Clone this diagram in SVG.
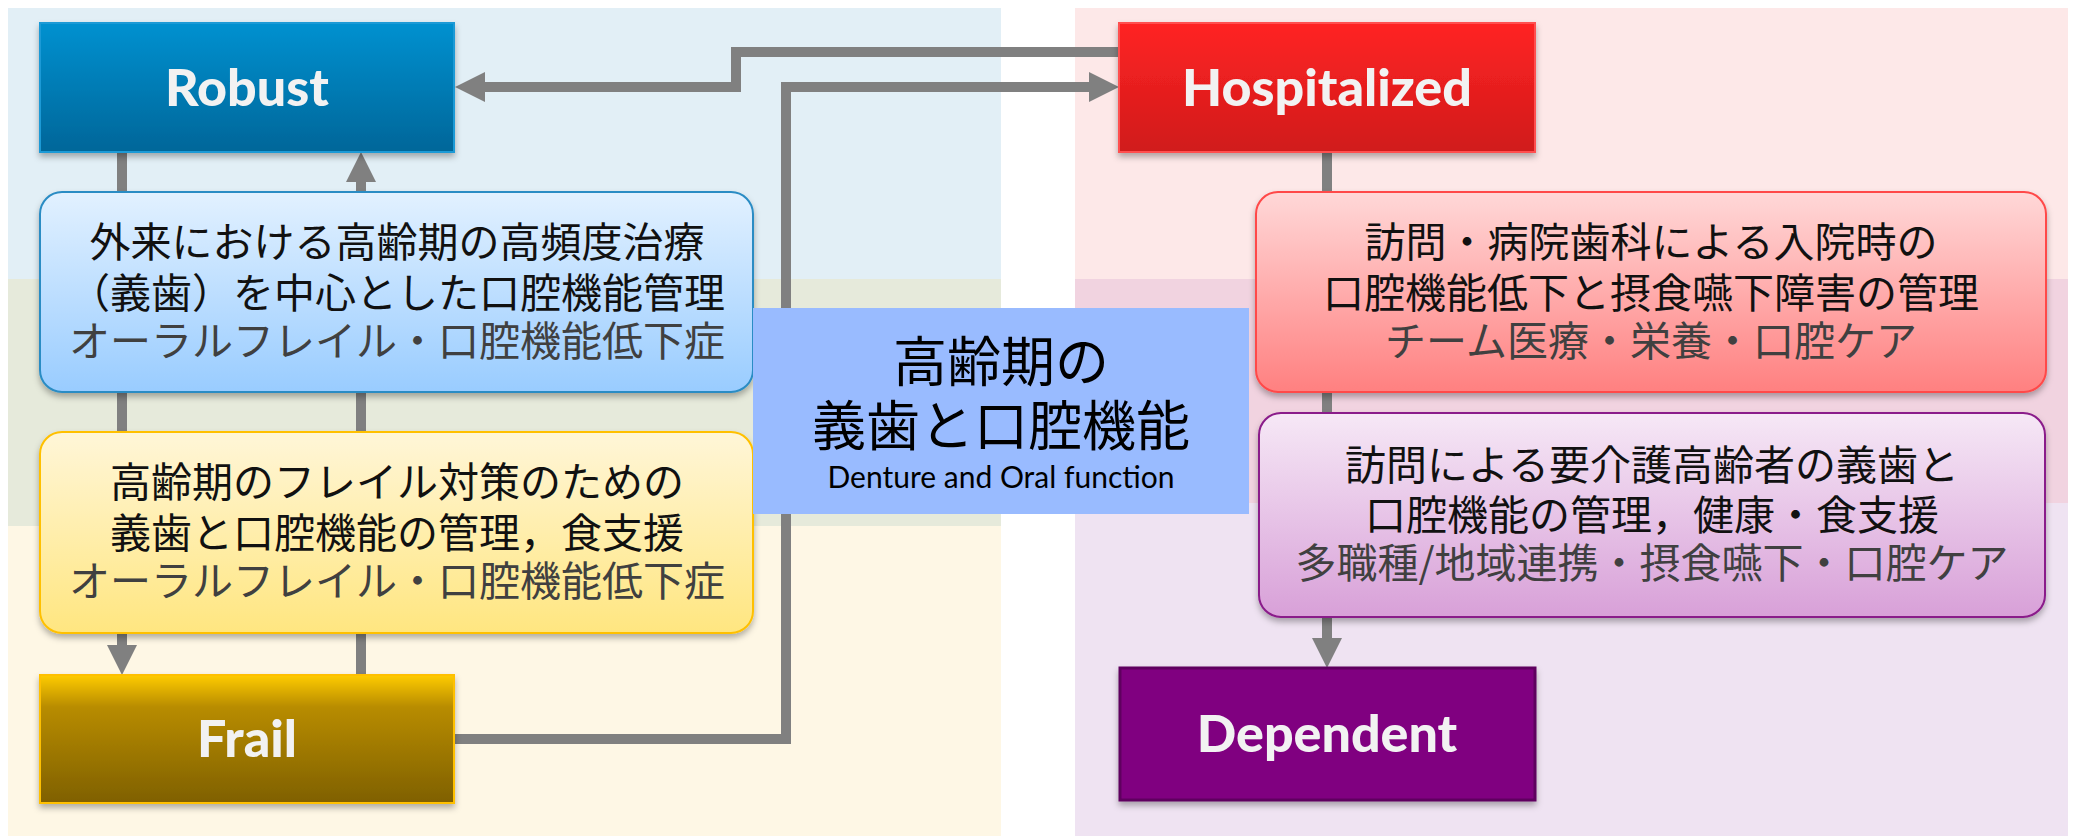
<svg xmlns="http://www.w3.org/2000/svg" width="2074" height="839" viewBox="0 0 2074 839">
<style>
.bg{stroke:none}
.conn{fill:none;stroke:#808080;stroke-width:10;stroke-linejoin:miter}
.state{font-family:Lato,"Open Sans","Liberation Sans",sans-serif;font-weight:900;font-size:52px;fill:#f2f2f2;text-anchor:middle}
.jp{font-family:"Noto Sans CJK JP","Noto Sans CJK SC",sans-serif;font-size:41px;fill:#111;text-anchor:middle}
.sub{fill:#404040}
.big{font-family:"Noto Sans CJK JP","Noto Sans CJK SC",sans-serif;font-size:54px;fill:#000;text-anchor:middle}
.en{font-family:Lato,"Open Sans","Liberation Sans",sans-serif;font-size:30px;fill:#000;text-anchor:middle}
</style>
<defs>
<filter id="sh" x="-10%" y="-10%" width="120%" height="130%">
<feDropShadow dx="0" dy="4" stdDeviation="3" flood-color="#000" flood-opacity="0.3"/>
</filter>
<marker id="ah" viewBox="0 0 30 30" markerWidth="30" markerHeight="30" refX="0" refY="15" orient="auto" markerUnits="userSpaceOnUse">
<path d="M0,0 L30,15 L0,30 Z" fill="#808080"/>
</marker>
<linearGradient id="gRobust" x1="0" y1="0" x2="0" y2="1"><stop offset="0" stop-color="#0091d0"/><stop offset="1" stop-color="#006699"/></linearGradient>
<linearGradient id="gHosp" x1="0" y1="0" x2="0" y2="1"><stop offset="0" stop-color="#ff2424"/><stop offset="1" stop-color="#d01a1a"/></linearGradient>
<linearGradient id="gFrail" x1="0" y1="0" x2="0" y2="1"><stop offset="0" stop-color="#ffcc00"/><stop offset="0.25" stop-color="#b88c00"/><stop offset="1" stop-color="#7f6000"/></linearGradient>
<linearGradient id="gBlue" x1="0" y1="0" x2="0" y2="1"><stop offset="0" stop-color="#e2f1ff"/><stop offset="1" stop-color="#99ccff"/></linearGradient>
<linearGradient id="gYel" x1="0" y1="0" x2="0" y2="1"><stop offset="0" stop-color="#fff6d8"/><stop offset="1" stop-color="#ffe680"/></linearGradient>
<linearGradient id="gPink" x1="0" y1="0" x2="0" y2="1"><stop offset="0" stop-color="#ffd8d8"/><stop offset="1" stop-color="#ff8080"/></linearGradient>
<linearGradient id="gPur" x1="0" y1="0" x2="0" y2="1"><stop offset="0" stop-color="#f6e8f6"/><stop offset="1" stop-color="#d8a0d8"/></linearGradient>
</defs>

<g id="background">
<rect class="bg" x="8" y="8" width="993" height="271" fill="#e2eff6"/>
<rect class="bg" x="8" y="279" width="993" height="247" fill="#e6eadb"/>
<rect class="bg" x="8" y="526" width="993" height="310" fill="#fef7e5"/>
<rect class="bg" x="1075" y="8" width="993" height="271" fill="#fde8e8"/>
<rect class="bg" x="1075" y="279" width="993" height="224" fill="#f1d3e0"/>
<rect class="bg" x="1075" y="503" width="993" height="333" fill="#efe3f2"/>
</g>

<g id="connectors">
<path class="conn" d="M122,152 L122,645" marker-end="url(#ah)"/>
<path class="conn" d="M361,675 L361,182" marker-end="url(#ah)"/>
<path class="conn" d="M1119,52 L736,52 L736,87 L485,87" marker-end="url(#ah)"/>
<path class="conn" d="M454,739 L786,739 L786,87 L1089,87" marker-end="url(#ah)"/>
<path class="conn" d="M1327,152 L1327,638" marker-end="url(#ah)"/>
</g>

<g id="robust" filter="url(#sh)">
<rect x="40" y="23" width="414" height="129" fill="url(#gRobust)" stroke="#1a9ad6" stroke-width="2"/>
<text class="state" x="247" y="106">Robust</text>
</g>

<g id="hospitalized" filter="url(#sh)">
<rect x="1119" y="23" width="416" height="129" fill="url(#gHosp)" stroke="#ff5050" stroke-width="2"/>
<text class="state" x="1327" y="106">Hospitalized</text>
</g>

<g id="frail" filter="url(#sh)">
<rect x="40" y="675" width="414" height="128" fill="url(#gFrail)" stroke="#ffc000" stroke-width="2"/>
<text class="state" x="247" y="757">Frail</text>
</g>

<g id="dependent" filter="url(#sh)">
<rect x="1120" y="668" width="415" height="132" fill="#800080" stroke="#5e005e" stroke-width="3"/>
<text class="state" x="1327" y="752">Dependent</text>
</g>

<g id="outpatient">
<rect x="40" y="192" width="713" height="200" rx="22" fill="url(#gBlue)" stroke="#2a8cc4" stroke-width="2" filter="url(#sh)"/>
<text class="jp" x="397" y="257">外来における高齢期の高頻度治療</text>
<text class="jp" x="397" y="308">（義歯）を中心とした口腔機能管理</text>
<text class="jp sub" x="397" y="356">オーラルフレイル・口腔機能低下症</text>
</g>

<g id="frailty-care">
<rect x="40" y="432" width="713" height="201" rx="22" fill="url(#gYel)" stroke="#ffc000" stroke-width="2" filter="url(#sh)"/>
<text class="jp" x="397" y="497">高齢期のフレイル対策のための</text>
<text class="jp" x="397" y="548">義歯と口腔機能の管理，食支援</text>
<text class="jp sub" x="397" y="596">オーラルフレイル・口腔機能低下症</text>
</g>

<g id="hospital-care">
<rect x="1256" y="192" width="790" height="200" rx="22" fill="url(#gPink)" stroke="#ff4848" stroke-width="2" filter="url(#sh)"/>
<text class="jp" x="1651" y="257">訪問・病院歯科による入院時の</text>
<text class="jp" x="1651" y="308">口腔機能低下と摂食嚥下障害の管理</text>
<text class="jp sub" x="1651" y="356">チーム医療・栄養・口腔ケア</text>
</g>

<g id="home-care">
<rect x="1259" y="413" width="786" height="204" rx="22" fill="url(#gPur)" stroke="#8a1a8a" stroke-width="2" filter="url(#sh)"/>
<text class="jp" x="1652" y="480">訪問による要介護高齢者の義歯と</text>
<text class="jp" x="1652" y="530">口腔機能の管理，健康・食支援</text>
<text class="jp sub" x="1652" y="578">多職種/地域連携・摂食嚥下・口腔ケア</text>
</g>

<g id="center">
<rect x="753" y="308" width="496" height="206" fill="#99bbff"/>
<text class="big" x="1001" y="382">高齢期の</text>
<text class="big" x="1001" y="446">義歯と口腔機能</text>
<text class="en" x="1001" y="488">Denture and Oral function</text>
</g>
</svg>
